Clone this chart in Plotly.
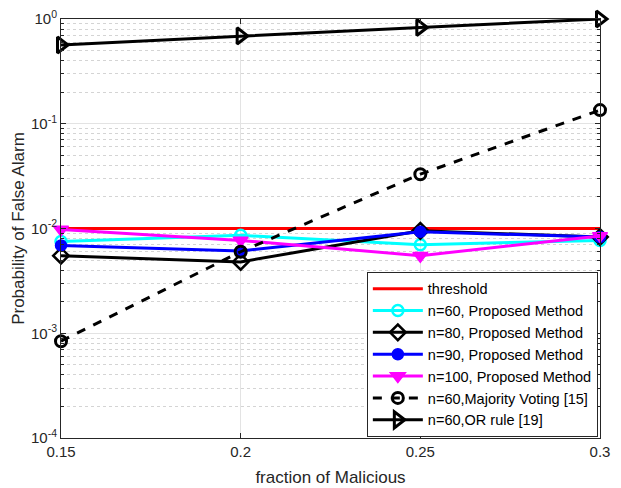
import plotly.graph_objects as go

x = [0.15, 0.2, 0.25, 0.3]
threshold = [1e-2, 1e-2, 1e-2, 1e-2]
n60_prop = [7.5e-3, 8.6e-3, 7.0e-3, 7.7e-3]
n80_prop = [5.5e-3, 4.8e-3, 9.5e-3, 8.3e-3]
n90_prop = [6.9e-3, 6.1e-3, 9.3e-3, 8.3e-3]
n100_prop = [9.8e-3, 7.7e-3, 5.5e-3, 8.5e-3]
n60_majority = [8.4e-4, 6.0e-3, 3.3e-2, 1.35e-1]
n60_or = [0.565, 0.69, 0.83, 1.0]

names = ["threshold", "n=60, Proposed Method", "n=80, Proposed Method",
         "n=90, Proposed Method", "n=100, Proposed Method",
         "n=60,Majority Voting [15]", "n=60,OR rule [19]"]

ytickvals = [1e-4, 1e-3, 1e-2, 1e-1, 1]
yticktext = ["10<sup>-4</sup>", "10<sup>-3</sup>", "10<sup>-2</sup>", "10<sup>-1</sup>", "10<sup>0</sup>"]
xtickvals = [0.15, 0.2, 0.25, 0.3]
xticktext = ["0.15", "0.2", "0.25", "0.3"]

fig = go.Figure()
LW = 3
fig.add_trace(go.Scatter(x=x, y=threshold, name=names[0], mode="lines",
                         line=dict(color="#ff0000", width=LW)))
fig.add_trace(go.Scatter(x=x, y=n60_prop, name=names[1], mode="lines+markers",
                         line=dict(color="#00ffff", width=LW),
                         marker=dict(symbol="circle-open", size=11, color="#00ffff",
                                     line=dict(width=2.5, color="#00ffff"))))
fig.add_trace(go.Scatter(x=x, y=n80_prop, name=names[2], mode="lines+markers",
                         line=dict(color="#000000", width=LW),
                         marker=dict(symbol="diamond-open", size=12, color="#000000",
                                     line=dict(width=2.5, color="#000000"))))
fig.add_trace(go.Scatter(x=x, y=n90_prop, name=names[3], mode="lines+markers",
                         line=dict(color="#0000ff", width=LW),
                         marker=dict(symbol="circle", size=11, color="#0000ff",
                                     line=dict(width=1.5, color="#0000ff"))))
fig.add_trace(go.Scatter(x=x, y=n100_prop, name=names[4], mode="lines+markers",
                         line=dict(color="#ff00ff", width=LW),
                         marker=dict(symbol="triangle-down", size=13, color="#ff00ff",
                                     line=dict(width=1.5, color="#ff00ff"))))
fig.add_trace(go.Scatter(x=x, y=n60_majority, name=names[5], mode="lines+markers",
                         line=dict(color="#000000", width=LW, dash="dash"),
                         marker=dict(symbol="circle-open", size=11, color="#000000",
                                     line=dict(width=3, color="#000000"))))
fig.add_trace(go.Scatter(x=x, y=n60_or, name=names[6], mode="lines+markers",
                         line=dict(color="#000000", width=LW),
                         marker=dict(symbol="triangle-right-open", size=14, color="#000000",
                                     line=dict(width=3, color="#000000"))))
fig.update_traces(cliponaxis=False)

axis_common = dict(
    showline=True, linecolor="#262626", linewidth=1, mirror="ticks",
    ticks="inside", ticklen=5, tickcolor="#262626",
    gridcolor="#e3e3e3", gridwidth=1, zeroline=False, automargin=False,
    ticklabeloverflow="allow",
    tickfont=dict(size=15, color="#262626", family="Liberation Sans, Arial, sans-serif"),
)

fig.update_xaxes(range=[0.15, 0.3], tickvals=xtickvals, ticktext=xticktext,
                 title=dict(text="fraction of Malicious", standoff=12,
                            font=dict(size=17, color="#262626")),
                 **axis_common)
fig.update_yaxes(type="log", range=[-4, 0], tickvals=ytickvals, ticktext=yticktext,
                 title=dict(text="Probability of False Alarm", standoff=2,
                            font=dict(size=17, color="#262626")),
                 minor=dict(ticks="inside", ticklen=3, tickcolor="#262626",
                            showgrid=True, gridcolor="#d4d4d4", griddash="dot",
                            dtick="D1"),
                 **axis_common)

fig.update_layout(
    width=613, height=480,
    margin=dict(l=53, r=21, t=11, b=50),
    paper_bgcolor="white", plot_bgcolor="white",
    font=dict(family="Liberation Sans, Arial, sans-serif", color="#262626"),
    showlegend=True,
    legend=dict(x=0.996, y=0.003, xanchor="right", yanchor="bottom",
                bgcolor="white", bordercolor="#262626", borderwidth=1,
                font=dict(size=14.5, color="#000000"),
                tracegroupgap=0, itemwidth=50),
)

fig.write_html("out.html")
